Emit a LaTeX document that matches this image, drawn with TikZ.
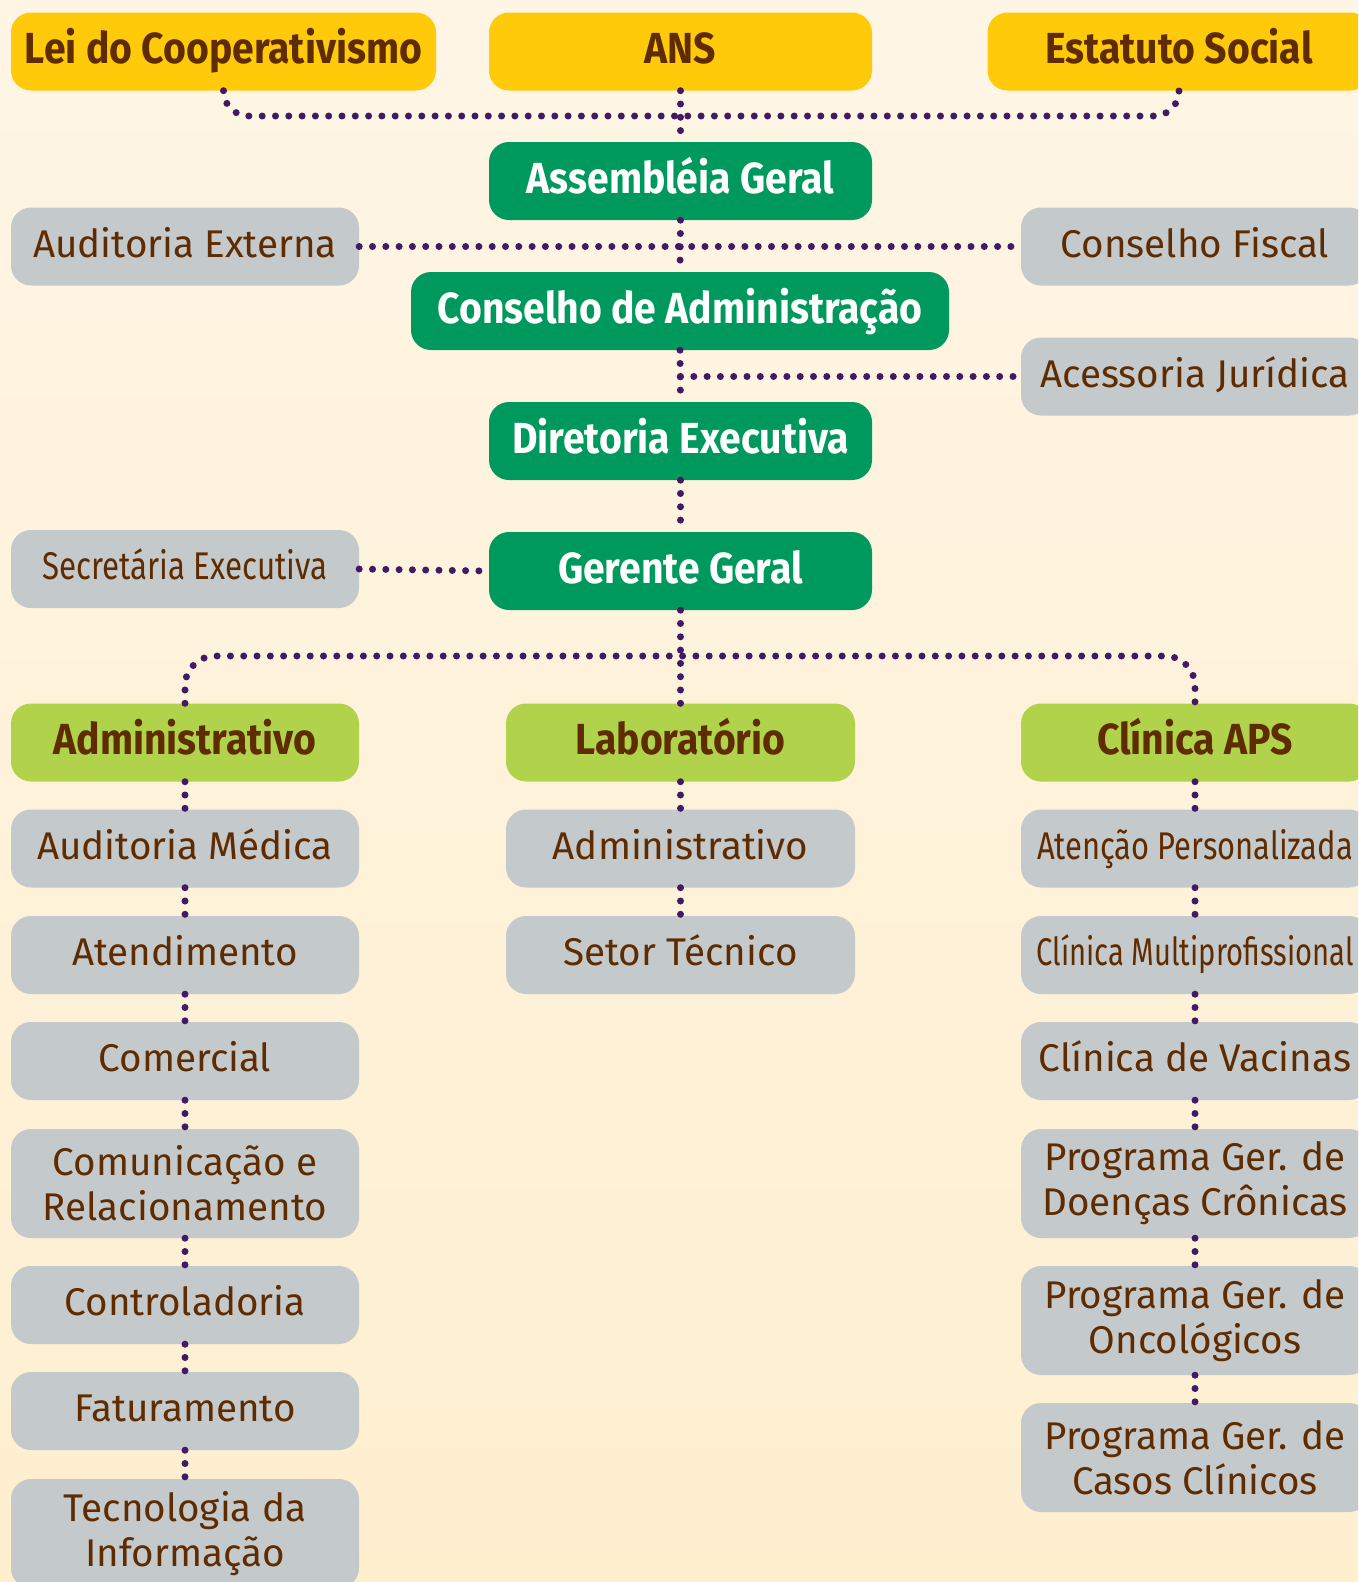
\documentclass[tikz,border=0pt]{standalone}
\usepackage{fontspec}
\setmainfont{Fira Sans}[BoldFeatures={FakeStretch=0.9}]
\usepackage{graphicx}
\usetikzlibrary{positioning}

\definecolor{bgtop}{HTML}{FEF5E5}
\definecolor{bgbot}{HTML}{FEEFCF}
\definecolor{amarelo}{HTML}{FFCA0A}
\definecolor{verde}{HTML}{00995D}
\definecolor{lima}{HTML}{B1D34B}
\definecolor{cinza}{HTML}{C4C9CC}
\definecolor{marrom}{HTML}{5E2C00}
\definecolor{roxo}{HTML}{411964}

\newcommand{\apertado}[2]{\scalebox{#1}[1]{#2}}

\begin{document}
\begin{tikzpicture}[x=1pt, y=-1pt,
	caixa/.style={rounded corners=20pt, minimum height=78pt, inner sep=0pt, align=center,
		text=marrom, font=\fontsize{38.6}{45}\selectfont},
	linha/.style={text height=27pt, text depth=6pt},
	negrito/.style={caixa, text height=30pt, text depth=6pt, font=\fontsize{43.5}{48}\selectfont\bfseries},
	amarela/.style={negrito, fill=amarelo},
	verdeesc/.style={negrito, fill=verde, text=white},
	verdeclaro/.style={negrito, fill=lima},
	cinzenta/.style={caixa, fill=cinza, linha},
	dupla/.style={caixa, fill=cinza, minimum height=109pt},
	pontos/.style={draw=roxo, line width=7pt, line cap=round, dash pattern=on 0pt off 13.3pt}]
	\shade[top color=bgtop, bottom color=bgbot] (0,0) rectangle (1358,1582);
	\useasboundingbox (0,0) rectangle (1358,1582);
	\clip (0,0) rectangle (1358,1582);
	% topo
	\node[amarela, minimum width=425pt] (lei) at (223.5,51.5) {Lei do Cooperativismo};
	\node[amarela, minimum width=383pt] (ans) at (680.5,51.5) {ANS};
	\node[amarela, minimum width=383pt] (estatuto) at (1179,51.5) {Estatuto Social};
	\coordinate (barra) at (680.5,116);
	\node[verdeesc, minimum width=383pt] (assembleia) at (680.5,181) {Assembléia Geral};
	\node[cinzenta, minimum width=348pt] (audext) at (185,246.5) {Auditoria Externa};
	\node[cinzenta, minimum width=348pt] (fiscal) at (1195,246.5) {Conselho Fiscal};
	\node[verdeesc, minimum width=538pt] (conselho) at (680,311) {Conselho de Administração};
	\node[cinzenta, minimum width=348pt] (juridica) at (1195,376.5) {Acessoria Jurídica};
	\node[verdeesc, minimum width=383pt] (diretoria) at (680.5,441) {Diretoria Executiva};
	\node[verdeesc, minimum width=383pt] (gerente) at (680.5,571) {Gerente Geral};
	\node[cinzenta, minimum width=348pt] (secretaria) at (185,569) {\apertado{0.81}{Secretária Executiva}};
	\coordinate (ramo) at (680.5,656);
	% areas
	\node[verdeclaro, minimum width=348pt] (adm) at (185,742.5) {Administrativo};
	\node[verdeclaro, minimum width=349pt] (lab) at (680.5,742.5) {Laboratório};
	\node[verdeclaro, minimum width=348pt] (aps) at (1195,742.5) {Clínica APS};
	% coluna administrativo
	\node[cinzenta, minimum width=348pt] (audmed) at (185,848.5) {Auditoria Médica};
	\node[cinzenta, minimum width=348pt] (atend) at (185,955) {Atendimento};
	\node[cinzenta, minimum width=348pt] (comercial) at (185,1061) {Comercial};
	\node[dupla, minimum width=348pt] (comunic) at (185,1183.5) {Comunicação e\\Relacionamento};
	\node[cinzenta, minimum width=348pt] (control) at (185,1305) {Controladoria};
	\node[cinzenta, minimum width=348pt] (fatur) at (185,1411) {Faturamento};
	\node[dupla, minimum width=348pt] (ti) at (185,1533.5) {Tecnologia da\\Informação};
	% coluna laboratorio
	\node[cinzenta, minimum width=349pt] (labadm) at (680.5,848.5) {Administrativo};
	\node[cinzenta, minimum width=349pt] (tecnico) at (680.5,955) {Setor Técnico};
	% coluna clinica
	\node[cinzenta, minimum width=348pt] (atencao) at (1195,848.5) {\apertado{0.80}{Atenção Personalizada}};
	\node[cinzenta, minimum width=348pt] (multi) at (1195,955) {\apertado{0.755}{Clínica Multiprofissional}};
	\node[cinzenta, minimum width=348pt] (vacinas) at (1195,1061) {Clínica de Vacinas};
	\node[dupla, minimum width=348pt] (cronicas) at (1195,1183.5) {Programa Ger. de\\Doenças Crônicas};
	\node[dupla, minimum width=348pt] (oncol) at (1195,1320.5) {Programa Ger. de\\Oncológicos};
	\node[dupla, minimum width=348pt] (casos) at (1195,1457.5) {Programa Ger. de\\Casos Clínicos};
	% ligacoes
	\draw[pontos, rounded corners=25pt] (lei.south) |- (barra) -| (estatuto.south);
	\draw[pontos] (ans.south) -- (assembleia.north);
	\draw[pontos] (assembleia.south) -- (conselho.north);
	\draw[pontos] (audext.east) -- (fiscal.west);
	\draw[pontos] (conselho.south) -- (diretoria.north);
	\draw[pontos] (juridica.west -| diretoria.north) -- (juridica.west);
	\draw[pontos] (diretoria.south) -- (gerente.north);
	\draw[pontos] (secretaria.east) -- (gerente.west);
	\draw[pontos] (gerente.south) -- (lab.north);
	\draw[pontos, rounded corners=30pt] (adm.north) |- (ramo) -| (aps.north);
	\foreach \a/\b in {adm/audmed, audmed/atend, atend/comercial, comercial/comunic,
		comunic/control, control/fatur, fatur/ti, lab/labadm, labadm/tecnico,
		aps/atencao, atencao/multi, multi/vacinas, vacinas/cronicas, cronicas/oncol, oncol/casos}
		\draw[pontos] (\a.south) -- (\b.north);
\end{tikzpicture}
\end{document}
